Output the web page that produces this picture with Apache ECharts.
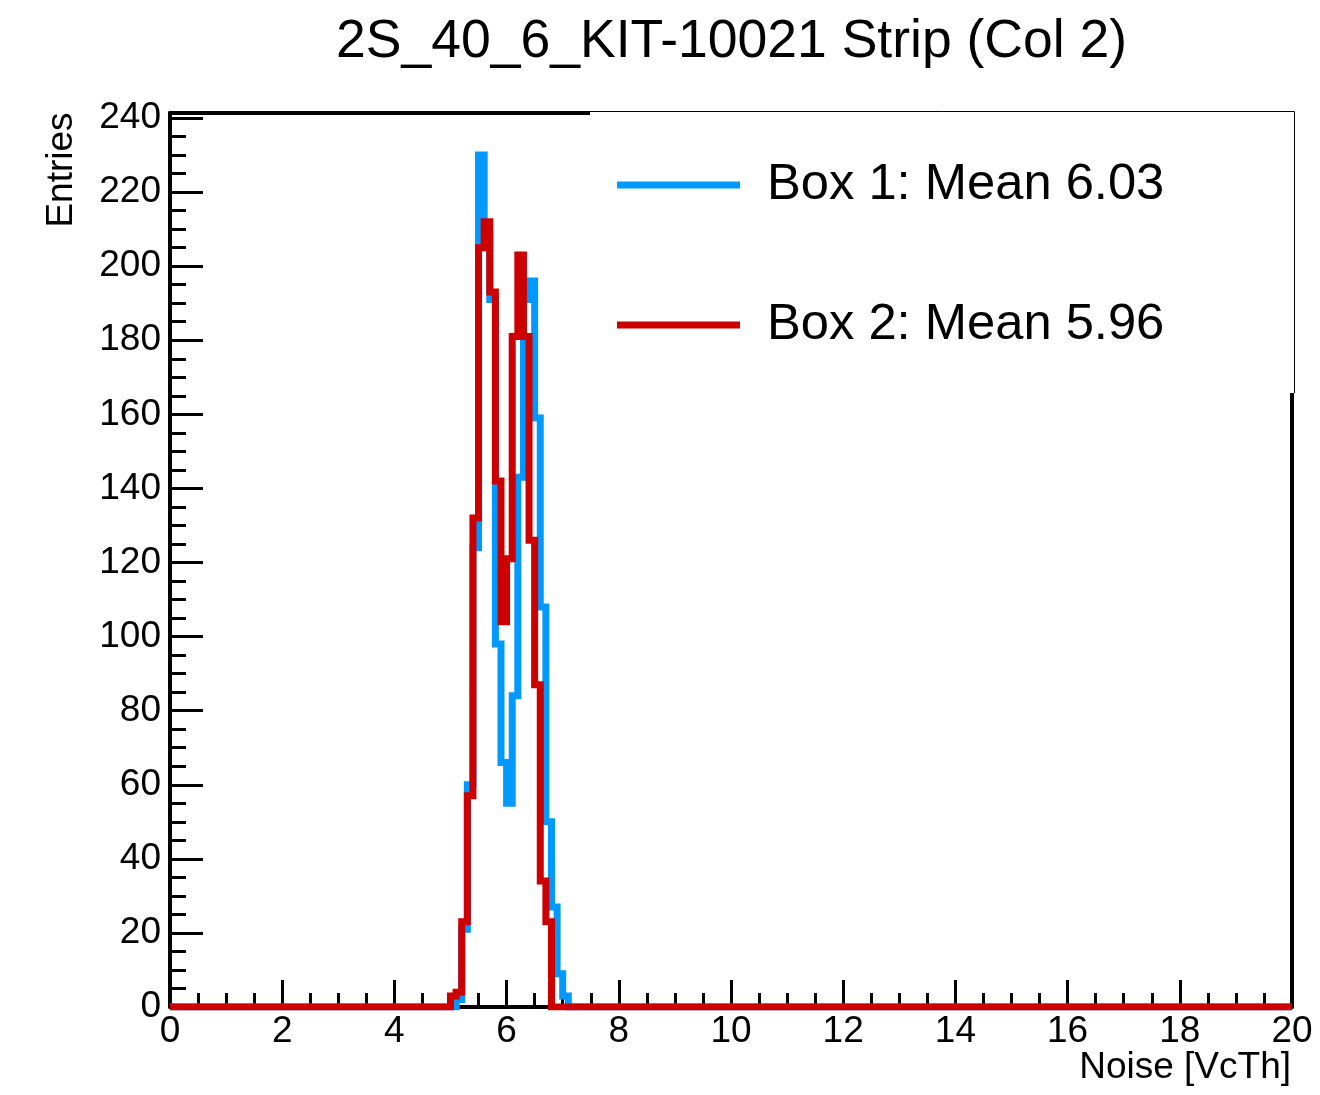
<!DOCTYPE html>
<html>
<head>
<meta charset="utf-8">
<script src="https://cdn.jsdelivr.net/npm/echarts@6/dist/echarts.min.js"></script>
<style>
  html, body { margin: 0; padding: 0; background: #ffffff; }
  #chart { width: 1320px; height: 1095px; }
</style>
</head>
<body>
<div id="chart"></div>
<script>
// ---- Data ----
const titleText = '2S_40_6_KIT-10021 Strip (Col 2)';
const xTitle = 'Noise [VcTh]';
const yTitle = 'Entries';
const seriesNames = ['Box 1: Mean 6.03', 'Box 2: Mean 5.96'];
// histogram binning: bins of 0.1 VcTh, first non-empty bin starts at 5.0
const firstBinTenths = 50;   // 5.0 in tenths
const binsPerUnit = 10;
const xRange = [0, 20];
// entries per bin, starting at 5.0
const box1Counts = [0, 2, 21, 60, 124, 230, 209, 191, 98, 66, 55, 84, 143, 191, 196, 159, 108, 50, 27, 9, 3];
const box2Counts = [3, 4, 23, 57, 132, 205, 212, 193, 142, 104, 121, 181, 203, 181, 126, 87, 34, 23, 0];
const xTicks = [0, 2, 4, 6, 8, 10, 12, 14, 16, 18, 20];
const yTicks = [0, 20, 40, 60, 80, 100, 120, 140, 160, 180, 200, 220, 240];

// Build step-histogram points: [lower bin edge, count]
function histPoints(counts) {
  const pts = [[xRange[0], 0]];
  counts.forEach((c, i) => pts.push([(firstBinTenths + i) / binsPerUnit, c]));
  pts.push([(firstBinTenths + counts.length) / binsPerUnit, 0]);
  pts.push([xRange[1], 0]);
  return pts;
}

const FONT = "'Liberation Sans', Arial, Helvetica, sans-serif";
const chart = echarts.init(document.getElementById('chart'), null, { renderer: 'canvas' });

const yMax = 241.35;

const option = {
  animation: false,
  backgroundColor: '#ffffff',
  textStyle: { fontFamily: FONT },
  title: {
    text: titleText,
    left: 336,
    top: 15,
    padding: 0,
    textStyle: { fontFamily: FONT, fontSize: 53.5, fontWeight: 'normal', color: '#000000' }
  },
  grid: { left: 170, right: 28, top: 113, bottom: 88, containLabel: false, outerBoundsMode: 'none' },
  xAxis: [
    {
      type: 'value',
      min: xRange[0], max: xRange[1], interval: xTicks[1] - xTicks[0],
      position: 'bottom',
      axisLine: { show: true, onZero: false, lineStyle: { color: '#000', width: 4 } },
      axisTick: { show: true, inside: true, length: 27, lineStyle: { color: '#000', width: 3 } },
      minorTick: { show: true, splitNumber: 4, length: 14, lineStyle: { color: '#000', width: 3 } },
      axisLabel: { show: true, margin: 6, fontFamily: FONT, fontSize: 37, color: '#000' },
      splitLine: { show: false }
    },
    {
      type: 'value',
      min: xRange[0], max: xRange[1],
      position: 'top',
      axisLine: { show: true, onZero: false, lineStyle: { color: '#000', width: 4 } },
      axisTick: { show: false }, axisLabel: { show: false }, splitLine: { show: false }
    }
  ],
  yAxis: [
    {
      type: 'value',
      min: 0, max: yMax, interval: yTicks[1] - yTicks[0],
      position: 'left',
      axisLine: { show: true, onZero: false, lineStyle: { color: '#000', width: 4 } },
      axisTick: { show: true, inside: true, length: 33, lineStyle: { color: '#000', width: 3 } },
      minorTick: { show: true, splitNumber: 4, length: 16, lineStyle: { color: '#000', width: 3 } },
      axisLabel: { show: true, margin: 9, showMaxLabel: false, fontFamily: FONT, fontSize: 37, color: '#000' },
      splitLine: { show: false }
    },
    {
      type: 'value',
      min: 0, max: yMax,
      position: 'right',
      axisLine: { show: true, onZero: false, lineStyle: { color: '#000', width: 4 } },
      axisTick: { show: false }, axisLabel: { show: false }, splitLine: { show: false }
    }
  ],
  legend: {
    orient: 'vertical',
    left: 617,
    top: 155,
    padding: 0,
    itemGap: 80,
    itemWidth: 123,
    itemHeight: 7,
    icon: 'rect',
    z: 10,
    data: seriesNames,
    textStyle: { fontFamily: FONT, fontSize: 50.7, color: '#000', lineHeight: 60, padding: [0, 0, 0, 22] }
  },
  graphic: [
    {
      type: 'rect',
      z: 8,
      shape: { x: 590, y: 111, width: 705, height: 282 },
      style: { fill: '#ffffff', lineWidth: 0 }
    },
    {
      type: 'line',
      z: 9,
      shape: { x1: 590, y1: 111.5, x2: 1294.5, y2: 111.5 },
      style: { stroke: '#000000', lineWidth: 1 }
    },
    {
      type: 'line',
      z: 9,
      shape: { x1: 1294.5, y1: 111.5, x2: 1294.5, y2: 393 },
      style: { stroke: '#000000', lineWidth: 1 }
    },
    {
      type: 'text',
      z: 8,
      x: 1291, y: 1068,
      style: { text: xTitle, fontFamily: FONT, fontSize: 37, fill: '#000', align: 'right', verticalAlign: 'middle' }
    },
    {
      type: 'text',
      z: 8,
      x: 62, y: 170,
      rotation: Math.PI / 2,
      style: { text: yTitle, fontFamily: FONT, fontSize: 37, fill: '#000', align: 'center', verticalAlign: 'middle' }
    }
  ],
  series: [
    {
      name: seriesNames[0],
      type: 'line',
      step: 'end',
      xAxisIndex: 0, yAxisIndex: 0,
      showSymbol: false, symbol: 'none',
      color: '#0099ff',
      lineStyle: { color: '#0099ff', width: 7, cap: 'butt', join: 'miter' },
      data: histPoints(box1Counts),
      z: 2
    },
    {
      name: seriesNames[1],
      type: 'line',
      step: 'end',
      xAxisIndex: 0, yAxisIndex: 0,
      showSymbol: false, symbol: 'none',
      color: '#cc0000',
      lineStyle: { color: '#cc0000', width: 7, cap: 'butt', join: 'miter' },
      data: histPoints(box2Counts),
      z: 3
    }
  ]
};

chart.setOption(option);
</script>
</body>
</html>
